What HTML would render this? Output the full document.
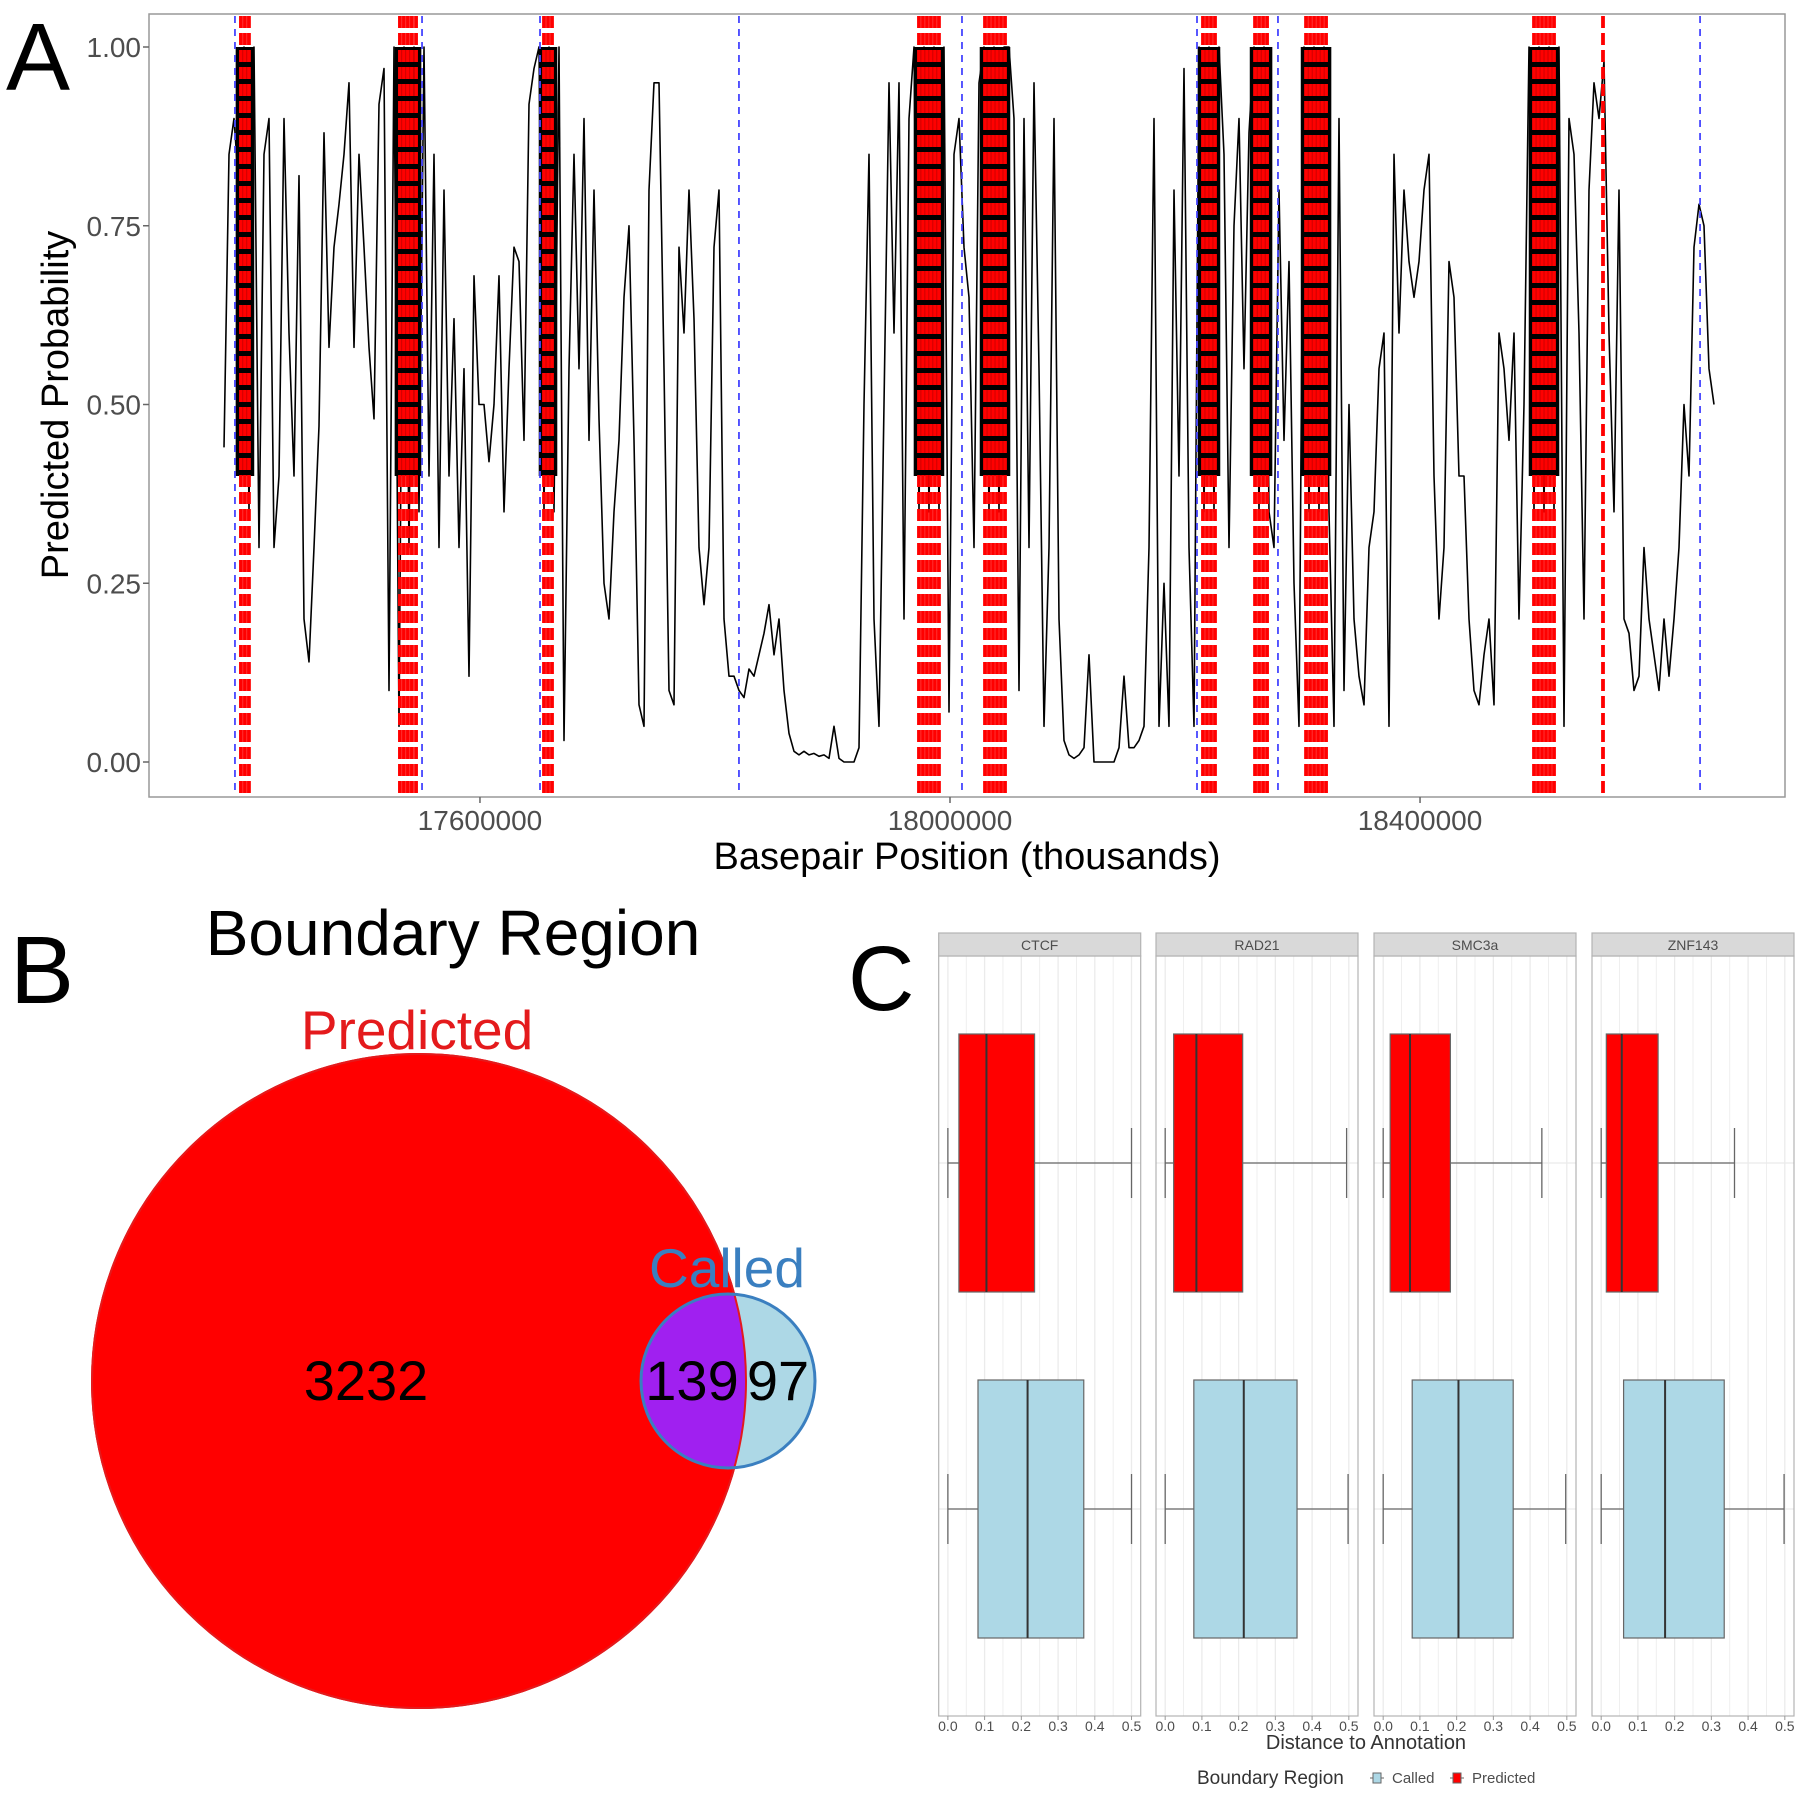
<!DOCTYPE html>
<html><head><meta charset="utf-8"><style>
html,body{margin:0;padding:0;background:#fff;}
svg{display:block;font-family:"Liberation Sans",sans-serif;}
</style></head><body>
<svg id="fig" width="1800" height="1800" viewBox="0 0 1800 1800" xmlns="http://www.w3.org/2000/svg">
<g id="pa"></g>
<g id="pb"></g>
<g id="pc"></g>
</svg>
<script>
// ---------- Panel A data ----------
const probStart = 17382200;
const probStep = 4255;
const probValues = [
0.44,0.85,0.9,0.8,1.0,0.35,1.0,0.3,0.85,0.9,0.3,0.4,0.9,0.6,0.4,0.82,0.2,0.14,0.3,0.47,
0.88,0.58,0.72,0.78,0.85,0.95,0.58,0.85,0.72,0.58,0.48,0.92,0.97,0.1,1.0,0.05,1.0,0.3,1.0,0.35,
1.0,0.4,0.85,0.3,0.8,0.4,0.62,0.3,0.55,0.12,0.68,0.5,0.5,0.42,0.5,0.68,0.35,0.55,0.72,0.7,
0.45,0.92,0.97,1.0,0.35,1.0,0.35,1.0,0.03,0.55,0.85,0.55,0.9,0.45,0.8,0.48,0.25,0.2,0.35,0.45,
0.65,0.75,0.45,0.08,0.05,0.8,0.95,0.95,0.55,0.1,0.08,0.72,0.6,0.8,0.62,0.3,0.22,0.3,0.72,0.8,
0.2,0.12,0.12,0.1,0.09,0.13,0.12,0.15,0.18,0.22,0.15,0.2,0.1,0.04,0.015,0.01,0.015,0.01,0.012,0.008,
0.01,0.005,0.05,0.005,0.0,0.0,0.0,0.02,0.5,0.85,0.2,0.05,0.5,0.95,0.6,0.95,0.2,0.9,1.0,0.35,
1.0,0.35,1.0,0.35,1.0,0.07,0.85,0.9,0.72,0.65,0.3,0.95,1.0,0.35,1.0,0.35,1.0,1.0,0.9,0.1,
0.9,0.3,0.95,0.55,0.05,0.3,0.9,0.2,0.03,0.01,0.005,0.01,0.02,0.15,0.0,0.0,0.0,0.0,0.0,0.02,
0.12,0.02,0.02,0.03,0.05,0.3,0.9,0.05,0.25,0.05,0.8,0.4,0.97,0.3,0.05,1.0,0.35,1.0,0.35,1.0,
0.85,0.3,0.75,0.9,0.55,0.88,1.0,0.35,1.0,0.35,0.3,0.8,0.45,0.7,0.25,0.05,1.0,0.35,1.0,0.35,
1.0,0.35,0.05,0.9,0.1,0.5,0.2,0.12,0.08,0.3,0.35,0.55,0.6,0.05,0.85,0.6,0.8,0.7,0.65,0.7,
0.8,0.85,0.4,0.2,0.3,0.7,0.65,0.4,0.4,0.2,0.1,0.08,0.15,0.2,0.08,0.6,0.55,0.45,0.6,0.2,
0.5,1.0,0.35,1.0,0.35,1.0,0.35,1.0,0.05,0.9,0.85,0.6,0.2,0.8,0.95,0.9,0.98,0.6,0.35,0.8,
0.2,0.18,0.1,0.12,0.3,0.2,0.15,0.1,0.2,0.12,0.2,0.3,0.5,0.4,0.72,0.78,0.75,0.55,0.5
];
const predictedBoundaries = [17396600,17400000,17403400,
 17531900,17535300,17538700,17542100,17545600,
 17654500,17657900,17661300,
 17973600,17977000,17980400,17983800,17987200,17990600,
 18029800,18033200,18036600,18040000,18043400,18046800,
 18215300,18218700,18222100,18225500,
 18259600,18263000,18266400,18269800,
 18303000,18306400,18309800,18313200,18316600,18320000,
 18497000,18500400,18503800,18507200,18510600,18514000,
 18555700];
const calledBoundaries = [17391500,17550700,17651100,17820400,18010200,18210200,18279100,18638300];
const xTicksA = [17600000,18000000,18400000];
const yTicksA = [0,0.25,0.5,0.75,1.0];
const yTickLabelsA = ["0.00","0.25","0.50","0.75","1.00"];

// ---------- Panel B data ----------
const vennLabels = ["Predicted","Called"];
const vennCounts = [3232,139,97];

// ---------- Panel C data ----------
const factors = ["CTCF","RAD21","SMC3a","ZNF143"];
const groups = ["Predicted","Called"];
const predMin = [0,0,0,0];
const predQ1 = [0.03,0.023,0.019,0.014];
const predMed = [0.105,0.085,0.073,0.056];
const predQ3 = [0.236,0.211,0.183,0.155];
const predMax = [0.5,0.494,0.432,0.363];
const calMin = [0,0,0,0];
const calQ1 = [0.082,0.078,0.079,0.061];
const calMed = [0.217,0.214,0.205,0.174];
const calQ3 = [0.37,0.359,0.354,0.335];
const calMax = [0.5,0.498,0.497,0.498];
const xTicksC = [0,0.1,0.2,0.3,0.4,0.5];

const NS="http://www.w3.org/2000/svg";
function mk(parent,tag,attrs,text){const e=document.createElementNS(NS,tag);for(const k in attrs)e.setAttribute(k,attrs[k]);if(text!==undefined)e.textContent=text;parent.appendChild(e);return e;}

// ===== Panel A =====
const pa=document.getElementById('pa');
const A={l:149,r:1785,t:14,b:797};
const xA=bp=>950+(bp-18000000)/851;
const yA=v=>762-v*715;
let e;
e=mk(pa,'text',{x:6,y:90,'font-size':96,fill:'#000'},'A');


e=mk(pa,'rect',{x:A.l,y:A.t,width:A.r-A.l,height:A.b-A.t,fill:'#fff',stroke:'#999','stroke-width':1.5});


// dense oscillation envelope around predicted boundary clusters
const clusters=[];
predictedBoundaries.forEach(bp=>{
  const c=clusters[clusters.length-1];
  if(c && bp-c[1]<10000) c[1]=bp; else clusters.push([bp,bp]);
});
clusters.forEach(c=>{
  if(c[1]===c[0]) return;
  const x0=xA(c[0]-4500), x1=xA(c[1]+4500);
  const r=mk(pa,'rect',{x:x0,y:yA(1.0),width:x1-x0,height:yA(0.4)-yA(1.0),fill:'#000'});
  
  
});
// line
let d='';
probValues.forEach((v,i)=>{d+=(i?'L':'M')+xA(probStart+i*probStep).toFixed(1)+','+yA(v).toFixed(1);});
e=mk(pa,'path',{d:d,fill:'none',stroke:'#000','stroke-width':1.6,'stroke-linejoin':'round'});


predictedBoundaries.forEach(bp=>{
  const ln=mk(pa,'line',{x1:xA(bp),x2:xA(bp),y1:A.t+2,y2:A.b-2,stroke:'#ff0000','stroke-width':3.8,'stroke-dasharray':'12 5'});
  
  
});
calledBoundaries.forEach(bp=>{
  const ln=mk(pa,'line',{x1:xA(bp),x2:xA(bp),y1:A.t+2,y2:A.b-2,stroke:'#4646ff','stroke-width':1.8,'stroke-dasharray':'7 6'});
  
  
});
yTicksA.forEach((v,i)=>{
  mk(pa,'line',{x1:A.l-6,x2:A.l,y1:yA(v),y2:yA(v),stroke:'#666','stroke-width':1.5});
  const t=mk(pa,'text',{x:A.l-8,y:yA(v)+10,'font-size':28,fill:'#4d4d4d','text-anchor':'end'},yTickLabelsA[i]);
  
  
});
xTicksA.forEach(bp=>{
  mk(pa,'line',{x1:xA(bp),x2:xA(bp),y1:A.b,y2:A.b+6,stroke:'#666','stroke-width':1.5});
  const t=mk(pa,'text',{x:xA(bp),y:830,'font-size':28,fill:'#4d4d4d','text-anchor':'middle'},String(bp));
  
  
});
e=mk(pa,'text',{x:967,y:869,'font-size':38,fill:'#000','text-anchor':'middle'},'Basepair Position (thousands)');


e=mk(pa,'text',{x:0,y:0,'font-size':38,fill:'#000','text-anchor':'middle',transform:'translate(68,405) rotate(-90)'},'Predicted Probability');



// ===== Panel B =====
const pb=document.getElementById('pb');
e=mk(pb,'text',{x:10,y:1003,'font-size':96,fill:'#000'},'B');


e=mk(pb,'text',{x:453,y:955,'font-size':64,fill:'#000','text-anchor':'middle'},'Boundary Region');


const bigR=327, smallR=87, cy=1381;
const defs=mk(pb,'defs',{});
const cp=mk(defs,'clipPath',{id:'bigclip'});
mk(cp,'circle',{cx:419,cy:cy,r:bigR});
e=mk(pb,'circle',{cx:419,cy:cy,r:bigR,fill:'#ff0000',stroke:'#e41a1c','stroke-width':2});


e=mk(pb,'circle',{cx:728,cy:cy,r:smallR,fill:'#add8e6'});


e=mk(pb,'circle',{cx:728,cy:cy,r:smallR,fill:'#a020f0','clip-path':'url(#bigclip)'});


mk(pb,'circle',{cx:419,cy:cy,r:bigR,fill:'none',stroke:'#e41a1c','stroke-width':2});
mk(pb,'circle',{cx:728,cy:cy,r:smallR,fill:'none',stroke:'#3a7fc0','stroke-width':3});
e=mk(pb,'text',{x:417,y:1049,'font-size':55,fill:'#e41a1c','text-anchor':'middle'},vennLabels[0]);


e=mk(pb,'text',{x:727,y:1287,'font-size':55,fill:'#3a7fc0','text-anchor':'middle'},vennLabels[1]);


[[366,vennCounts[0]],[692,vennCounts[1]],[778,vennCounts[2]]].forEach(([x,v],i)=>{
  const t=mk(pb,'text',{x:x,y:1400,'font-size':56,fill:'#000','text-anchor':'middle'},String(v));
  
  
});

// ===== Panel C =====
const pc=document.getElementById('pc');
e=mk(pc,'text',{x:848,y:1010,'font-size':92,fill:'#000'},'C');


const lefts=[938.7,1156,1374,1592], PW=202, stripT=933, stripB=956, panB=1716;
const groupY={Predicted:1163,Called:1509}, halfBox=129;
factors.forEach((f,i)=>{
  const L=lefts[i], sc=PW/0.55;
  const xc=v=>L+(v+0.025)*sc;
  const g=mk(pc,'g',{});
  
  
  mk(g,'rect',{x:L,y:stripB,width:PW,height:panB-stripB,fill:'#fff'});
  for(let v=0;v<=0.5001;v+=0.05){
    mk(g,'line',{x1:xc(v),x2:xc(v),y1:stripB,y2:panB,stroke:'#ebebeb','stroke-width':(Math.round(v*100)%10===0)?1.3:0.8});
  }
  Object.values(groupY).forEach(y=>mk(g,'line',{x1:L,x2:L+PW,y1:y,y2:y,stroke:'#ebebeb','stroke-width':1.3}));
  mk(g,'rect',{x:L,y:stripB,width:PW,height:panB-stripB,fill:'none',stroke:'#b3b3b3','stroke-width':1.2});
  const st=mk(g,'rect',{x:L,y:stripT,width:PW,height:stripB-stripT,fill:'#d9d9d9',stroke:'#b3b3b3','stroke-width':1.2});
  
  
  const lab=mk(g,'text',{x:L+PW/2,y:950,'font-size':14,fill:'#4d4d4d','text-anchor':'middle'},f);
  
  
  const stats={Predicted:[predMin[i],predQ1[i],predMed[i],predQ3[i],predMax[i],'#ff0000'],
               Called:[calMin[i],calQ1[i],calMed[i],calQ3[i],calMax[i],'#add8e6']};
  groups.forEach(gr=>{
    const [mn,q1,md,q3,mx,col]=stats[gr]; const y=groupY[gr];
    mk(g,'line',{x1:xc(mn),x2:xc(q1),y1:y,y2:y,stroke:'#666','stroke-width':1.3});
    mk(g,'line',{x1:xc(q3),x2:xc(mx),y1:y,y2:y,stroke:'#666','stroke-width':1.3});
    mk(g,'line',{x1:xc(mn),x2:xc(mn),y1:y-35,y2:y+35,stroke:'#666','stroke-width':1.3});
    mk(g,'line',{x1:xc(mx),x2:xc(mx),y1:y-35,y2:y+35,stroke:'#666','stroke-width':1.3});
    const b=mk(g,'rect',{x:xc(q1),y:y-halfBox,width:xc(q3)-xc(q1),height:2*halfBox,fill:col,stroke:'#666','stroke-width':1.2});
    
    
    mk(g,'line',{x1:xc(md),x2:xc(md),y1:y-halfBox,y2:y+halfBox,stroke:'#333','stroke-width':2});
  });
  xTicksC.forEach(v=>{
    mk(g,'line',{x1:xc(v),x2:xc(v),y1:panB,y2:panB+4,stroke:'#999','stroke-width':1});
    const t=mk(g,'text',{x:xc(v),y:1731,'font-size':14,fill:'#4d4d4d','text-anchor':'middle'},v.toFixed(1));
    
    
  });
});
e=mk(pc,'text',{x:1366,y:1749,'font-size':20,fill:'#333','text-anchor':'middle'},'Distance to Annotation');


e=mk(pc,'text',{x:1197,y:1784,'font-size':19,fill:'#333'},'Boundary Region');


[[1370,'#add8e6','Called'],[1450,'#ff0000','Predicted']].forEach(([x,c,t],i)=>{
  const lg=mk(pc,'g',{});
  
  
  mk(lg,'line',{x1:x,x2:x+14,y1:1778,y2:1778,stroke:'#666','stroke-width':1});
  mk(lg,'rect',{x:x+3,y:1773,width:8,height:10,fill:c,stroke:'#666','stroke-width':1});
  mk(lg,'text',{x:x+22,y:1783,'font-size':15,fill:'#4d4d4d'},t);
});
</script>
</body></html>
